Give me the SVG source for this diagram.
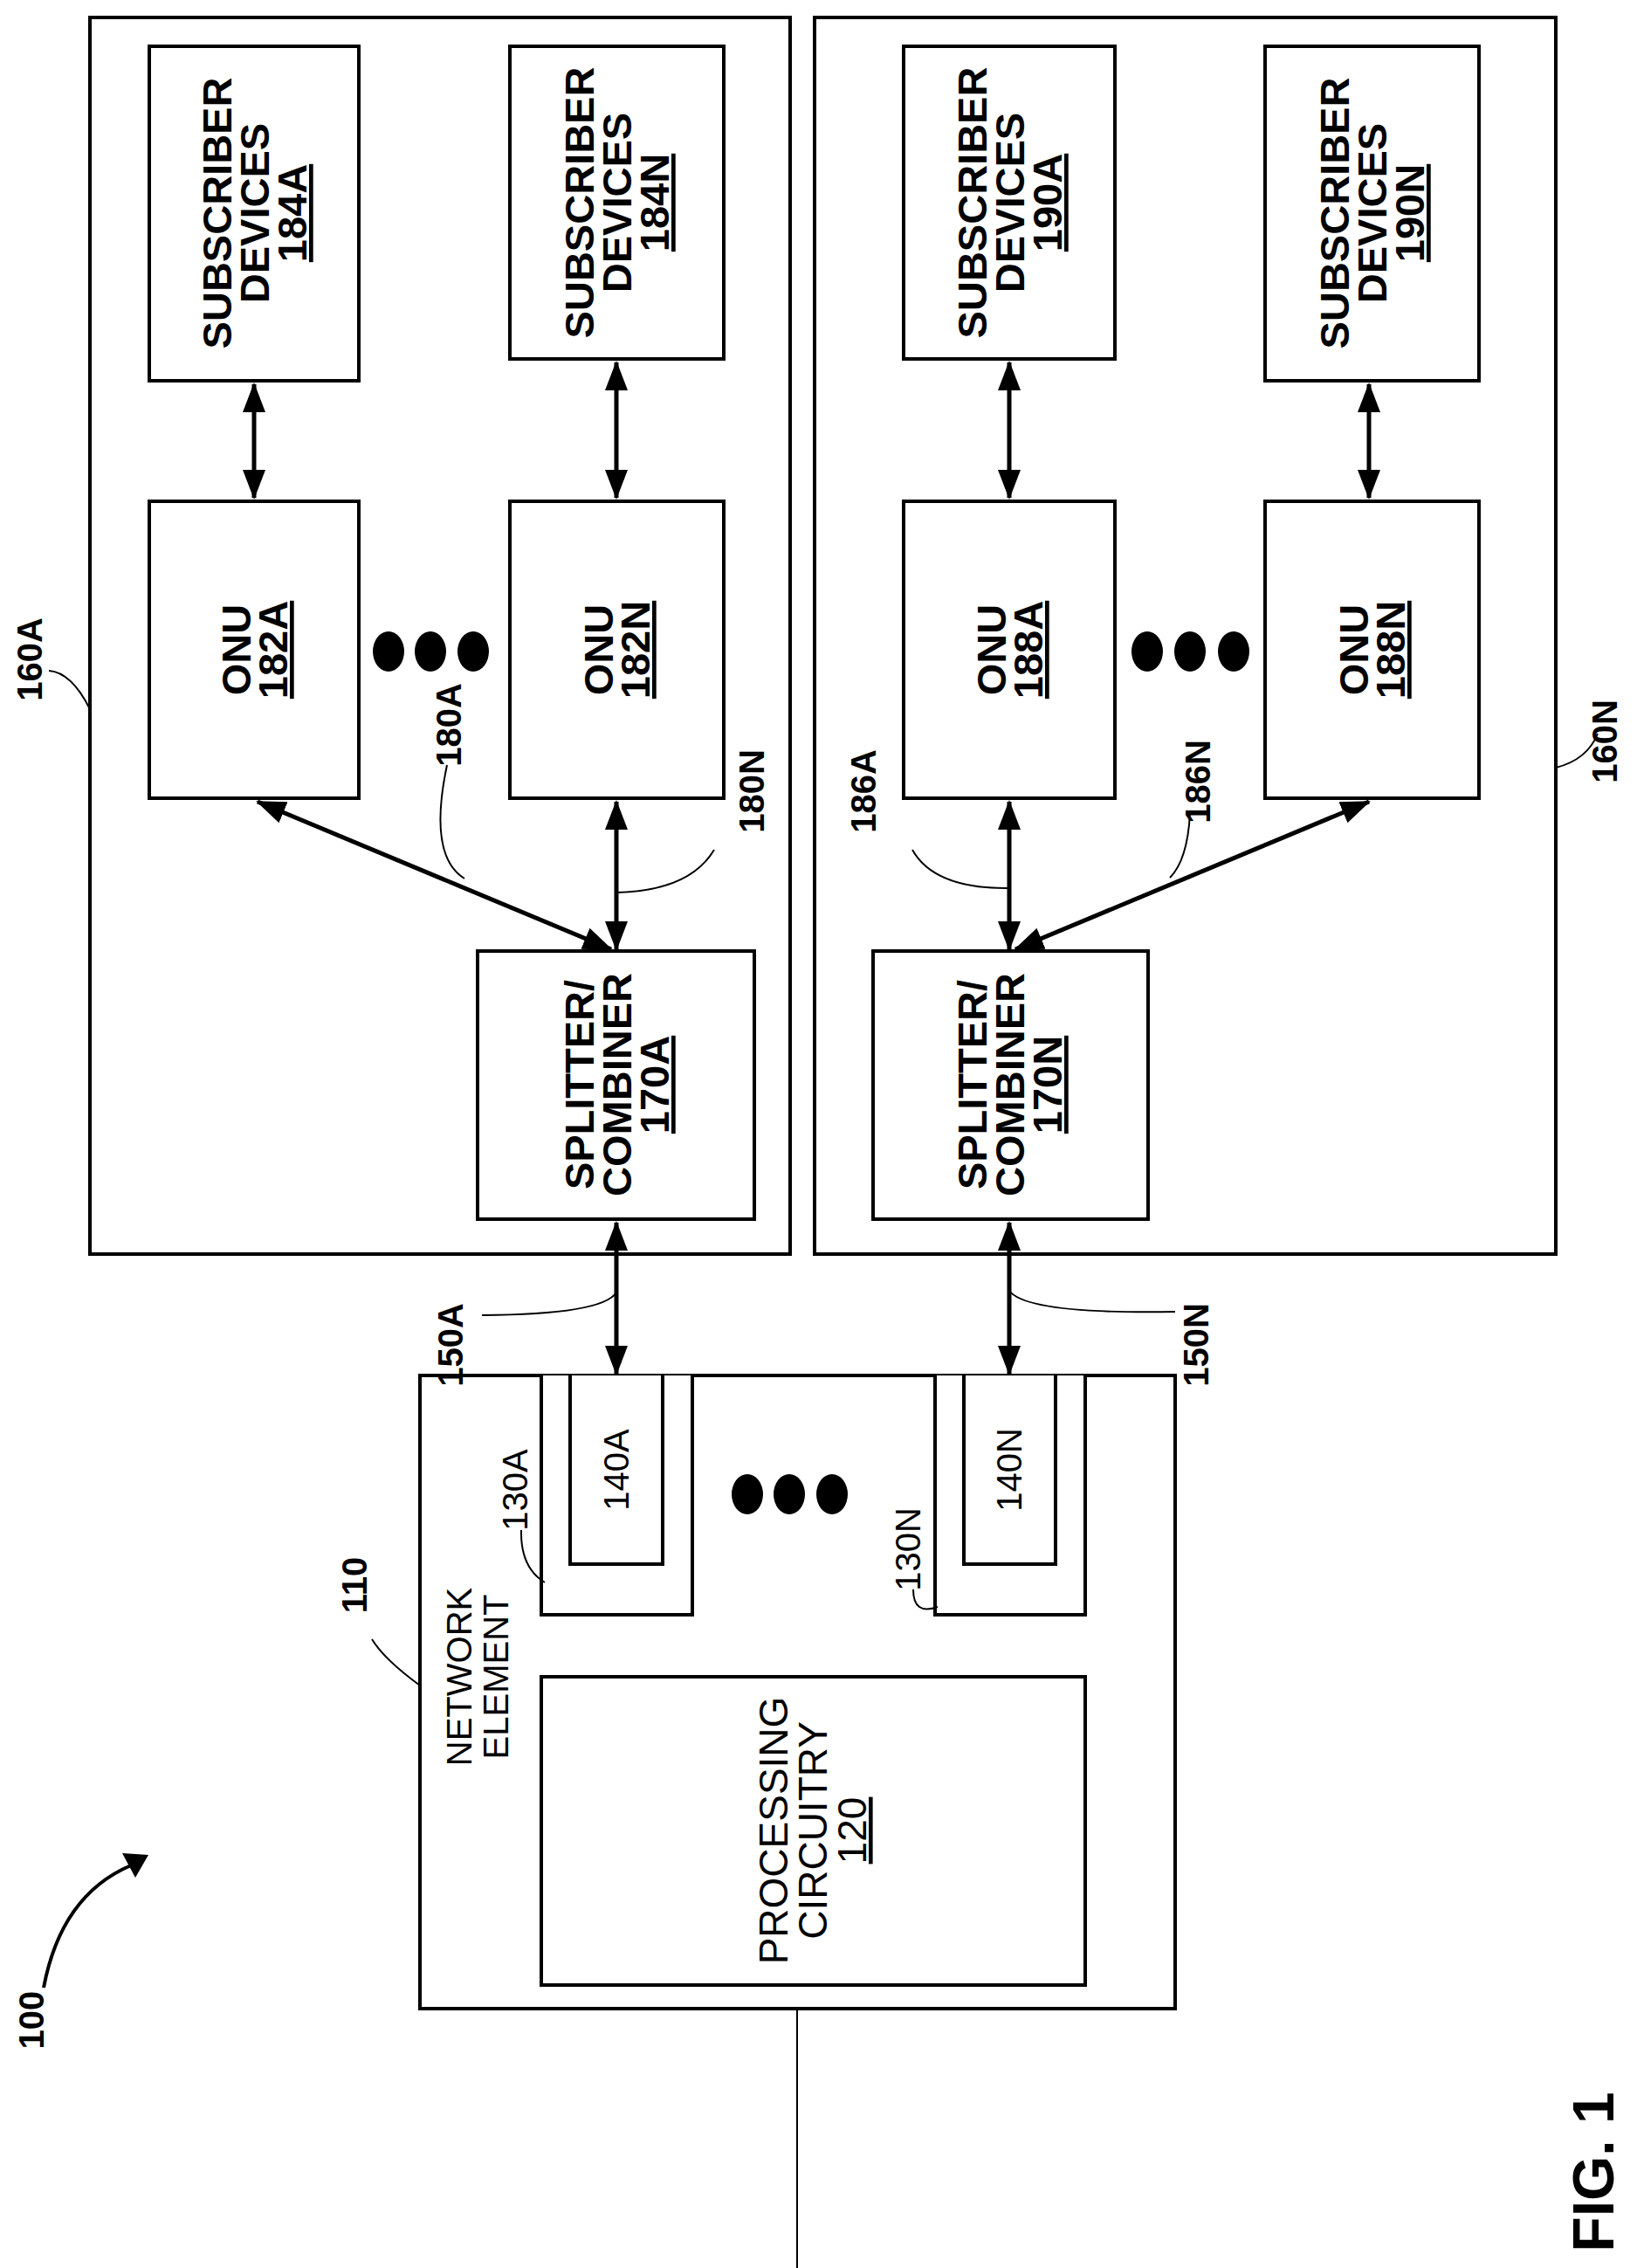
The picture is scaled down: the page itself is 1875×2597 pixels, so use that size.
<svg xmlns="http://www.w3.org/2000/svg" width="1875" height="2597" viewBox="0 0 1875 2597">
<style>
.b{fill:#fff;stroke:#000;stroke-width:4}
.t{font-family:"Liberation Sans",Arial,sans-serif;font-weight:bold;font-size:47px;text-anchor:middle}
.m{font-family:"Liberation Sans",Arial,sans-serif;font-weight:bold;font-size:40px;text-anchor:middle}
.n{font-family:"Liberation Sans",Arial,sans-serif;font-size:40px;text-anchor:middle}
.c{fill:none;stroke:#000;stroke-width:5}
.l{fill:none;stroke:#000;stroke-width:2}
</style>
<defs>
<marker id="a" markerUnits="userSpaceOnUse" markerWidth="34" markerHeight="28" refX="32" refY="13" orient="auto-start-reverse" viewBox="0 0 34 26"><path d="M0,0 L34,13 L0,26 z"/></marker>
</defs>
<rect width="1875" height="2597" fill="#fff"/>
<g id="g160A"><rect class="b" x="103" y="20" width="802" height="1416" fill="none"/><text class="m" transform="translate(48,755) rotate(-90)">160A</text><path class="l" d="M56,768 Q82,770 103,812"/></g>
<g id="g160N"><rect class="b" x="933" y="20" width="849" height="1416"/><text class="m" transform="translate(1852,849) rotate(-90)">160N</text><path class="l" d="M1782,879 Q1818,870 1830,840"/></g>
<g id="n184A"><rect class="b" x="171" y="53" width="240" height="383"/><text class="t" transform="translate(291,244) rotate(-90)"><tspan x="0" y="-26">SUBSCRIBER</tspan><tspan x="0" y="17">DEVICES</tspan><tspan x="0" y="60" text-decoration="underline">184A</tspan></text></g>
<g id="n184N"><rect class="b" x="584" y="53" width="245" height="358"/><text class="t" transform="translate(706,232) rotate(-90)"><tspan x="0" y="-26">SUBSCRIBER</tspan><tspan x="0" y="17">DEVICES</tspan><tspan x="0" y="60" text-decoration="underline">184N</tspan></text></g>
<g id="n190A"><rect class="b" x="1035" y="53" width="242" height="358"/><text class="t" transform="translate(1156,232) rotate(-90)"><tspan x="0" y="-26">SUBSCRIBER</tspan><tspan x="0" y="17">DEVICES</tspan><tspan x="0" y="60" text-decoration="underline">190A</tspan></text></g>
<g id="n190N"><rect class="b" x="1449" y="53" width="245" height="383"/><text class="t" transform="translate(1571,244) rotate(-90)"><tspan x="0" y="-26">SUBSCRIBER</tspan><tspan x="0" y="17">DEVICES</tspan><tspan x="0" y="60" text-decoration="underline">190N</tspan></text></g>
<g id="n182A"><rect class="b" x="171" y="574" width="240" height="340"/><text class="t" transform="translate(291,744) rotate(-90)"><tspan x="0" y="-4">ONU</tspan><tspan x="0" y="38" text-decoration="underline">182A</tspan></text></g>
<g id="n182N"><rect class="b" x="584" y="574" width="245" height="340"/><text class="t" transform="translate(706,744) rotate(-90)"><tspan x="0" y="-4">ONU</tspan><tspan x="0" y="38" text-decoration="underline">182N</tspan></text></g>
<g id="n188A"><rect class="b" x="1035" y="574" width="242" height="340"/><text class="t" transform="translate(1156,744) rotate(-90)"><tspan x="0" y="-4">ONU</tspan><tspan x="0" y="38" text-decoration="underline">188A</tspan></text></g>
<g id="n188N"><rect class="b" x="1449" y="574" width="245" height="340"/><text class="t" transform="translate(1571,744) rotate(-90)"><tspan x="0" y="-4">ONU</tspan><tspan x="0" y="38" text-decoration="underline">188N</tspan></text></g>
<g id="n170A"><rect class="b" x="547" y="1089" width="317" height="307"/><text class="t" transform="translate(706,1242) rotate(-90)"><tspan x="0" y="-26">SPLITTER/</tspan><tspan x="0" y="17">COMBINER</tspan><tspan x="0" y="60" text-decoration="underline">170A</tspan></text></g>
<g id="n170N"><rect class="b" x="1000" y="1089" width="315" height="307"/><text class="t" transform="translate(1156,1242) rotate(-90)"><tspan x="0" y="-26">SPLITTER/</tspan><tspan x="0" y="17">COMBINER</tspan><tspan x="0" y="60" text-decoration="underline">170N</tspan></text></g>
<g id="n110"><rect class="b" x="481" y="1575" width="865" height="725"/><text class="n" transform="translate(540,1920) rotate(-90)"><tspan x="0" y="0">NETWORK</tspan><tspan x="0" y="42">ELEMENT</tspan></text><text class="m" transform="translate(420,1815) rotate(-90)">110</text><path class="l" d="M426,1877 Q440,1900 481,1930"/></g>
<g id="n130A"><path class="b" d="M620,1575 V1849 H793 V1575"/><path class="b" d="M653,1575 V1791 H759 V1575"/><text class="n" transform="translate(720,1683) rotate(-90)">140A</text><text class="n" transform="translate(604,1706) rotate(-90)">130A</text><path class="l" d="M597,1752 Q596,1795 624,1812"/></g>
<g id="n130N"><path class="b" d="M1071,1575 V1849 H1243 V1575"/><path class="b" d="M1104,1575 V1791 H1209 V1575"/><text class="n" transform="translate(1170,1683) rotate(-90)">140N</text><text class="n" transform="translate(1054,1774) rotate(-90)">130N</text><path class="l" d="M1046,1820 Q1046,1850 1074,1840"/></g>
<g id="n120"><rect class="b" x="620" y="1920" width="623" height="353"/><text class="n" style="font-size:46px" transform="translate(930,2096) rotate(-90)"><tspan x="0" y="-28">PROCESSING</tspan><tspan x="0" y="17">CIRCUITRY</tspan><tspan x="0" y="62" text-decoration="underline">120</tspan></text></g>
<g id="dots"><ellipse cx="445" cy="746" rx="18" ry="23"/><ellipse cx="493" cy="746" rx="18" ry="23"/><ellipse cx="542" cy="746" rx="18" ry="23"/><ellipse cx="1314" cy="746" rx="18" ry="23"/><ellipse cx="1363" cy="746" rx="18" ry="23"/><ellipse cx="1413" cy="746" rx="18" ry="23"/><ellipse cx="856" cy="1711" rx="18" ry="23"/><ellipse cx="904" cy="1711" rx="18" ry="23"/><ellipse cx="953" cy="1711" rx="18" ry="23"/></g>
<g id="connectors">
<path class="c" d="M291,440 V570" marker-start="url(#a)" marker-end="url(#a)"/>
<path class="c" d="M706,415 V570" marker-start="url(#a)" marker-end="url(#a)"/>
<path class="c" d="M1156,415 V570" marker-start="url(#a)" marker-end="url(#a)"/>
<path class="c" d="M1568,440 V570" marker-start="url(#a)" marker-end="url(#a)"/>
<path class="c" d="M295,918 L700,1087" marker-start="url(#a)" marker-end="url(#a)"/>
<path class="c" d="M706,918 V1087" marker-start="url(#a)" marker-end="url(#a)"/>
<path class="c" d="M1156,918 V1087" marker-start="url(#a)" marker-end="url(#a)"/>
<path class="c" d="M1568,918 L1163,1087" marker-start="url(#a)" marker-end="url(#a)"/>
<path class="c" d="M706,1400 V1573" marker-start="url(#a)" marker-end="url(#a)"/>
<path class="c" d="M1156,1400 V1573" marker-start="url(#a)" marker-end="url(#a)"/>
<path class="l" d="M913,2300 V2597"/>
<path class="l" d="M512,876 Q490,980 532,1006"/>
<path class="l" d="M818,973 Q790,1020 706,1022"/>
<path class="l" d="M1045,973 Q1070,1018 1156,1017"/>
<path class="l" d="M1363,932 Q1360,985 1340,1005"/>
<path class="l" d="M552,1506 Q690,1505 706,1480"/>
<path class="l" d="M1346,1502 Q1176,1505 1156,1478"/>
<path fill="none" stroke="#000" stroke-width="4" d="M50,2276 Q70,2170 150,2136"/>
<path d="M170,2124 L140,2122 L155,2150 z"/>
</g>
<text class="m" transform="translate(528,830) rotate(-90)">180A</text>
<text class="m" transform="translate(875,906) rotate(-90)">180N</text>
<text class="m" transform="translate(1003,906) rotate(-90)">186A</text>
<text class="m" transform="translate(1386,895) rotate(-90)">186N</text>
<text class="m" transform="translate(530,1540) rotate(-90)">150A</text>
<text class="m" transform="translate(1384,1540) rotate(-90)">150N</text>
<text class="m" transform="translate(50,2313) rotate(-90)">100</text>
<text class="t" style="font-size:66px" transform="translate(1848,2487) rotate(-90)">FIG. 1</text>
</svg>
